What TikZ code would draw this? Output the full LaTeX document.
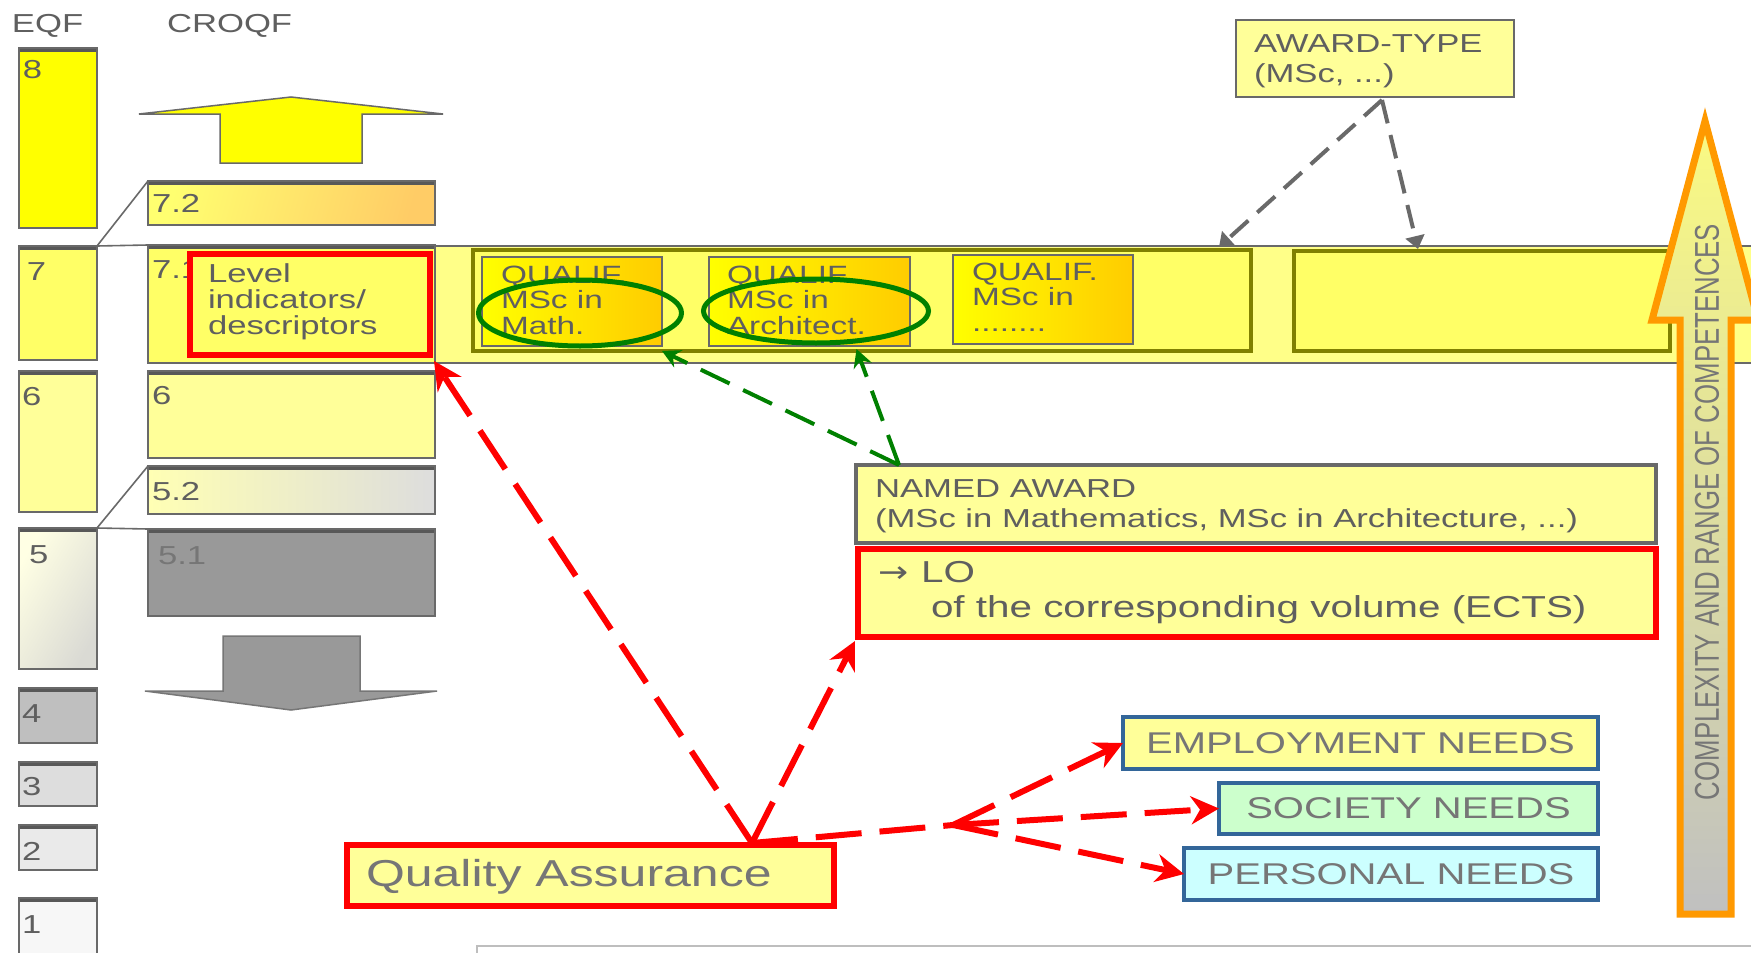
\documentclass[tikz,border=0pt]{standalone}
\usepackage{fontspec}
\setmainfont{Liberation Sans}[FakeStretch=1.333]
\newfontfamily\narrowsans{Liberation Sans}[FakeStretch=0.75]
\newfontfamily\arrowsans{DejaVu Sans}[FakeStretch=1.2]
\usetikzlibrary{arrows.meta,shapes.geometric,calc}

\newcommand{\setfs}[2]{\fontsize{#1}{#2}\selectfont}

\definecolor{txtgray}{RGB}{95,95,95}
\definecolor{softgray}{RGB}{118,118,118}
\definecolor{edgegray}{RGB}{105,105,105}
\definecolor{capgray}{RGB}{88,88,88}
\definecolor{yfull}{RGB}{255,255,0}
\definecolor{ymid}{RGB}{255,255,102}
\definecolor{ypale}{RGB}{255,255,153}
\definecolor{yband}{RGB}{255,255,136}
\definecolor{ambr}{RGB}{255,204,0}
\definecolor{peach}{RGB}{255,204,102}
\definecolor{grayA}{RGB}{153,153,153}
\definecolor{grayB}{RGB}{191,191,191}
\definecolor{grayC}{RGB}{221,221,221}
\definecolor{grayD}{RGB}{234,234,234}
\definecolor{grayE}{RGB}{247,247,247}
\definecolor{olivec}{RGB}{128,128,0}
\definecolor{greenc}{RGB}{0,128,0}
\definecolor{redc}{RGB}{255,0,0}
\definecolor{bluec}{RGB}{51,102,153}
\definecolor{mintc}{RGB}{204,255,204}
\definecolor{cyanc}{RGB}{204,255,255}
\definecolor{orangec}{RGB}{255,153,0}
\definecolor{arrtop}{RGB}{250,250,130}
\definecolor{arrbot}{RGB}{192,192,192}
\definecolor{framegray}{RGB}{190,190,190}

\begin{document}
\begin{tikzpicture}[x=1pt,y=-1pt,
  lbl/.style={anchor=base west, inner sep=0pt, outer sep=0pt, text=txtgray},
  levelbox/.style={draw=edgegray, line width=2pt, anchor=north west, inner sep=0pt, outer sep=0pt,
    path picture={\fill[capgray] (path picture bounding box.north west) rectangle ([yshift=-4pt]path picture bounding box.north east);}},
  plainbox/.style={anchor=north west, inner sep=0pt, outer sep=0pt},
  olivebox/.style={plainbox, draw=olivec, line width=4pt, fill=ymid},
  qbox/.style={plainbox, draw=edgegray, line width=2pt, left color=yfull, right color=ambr},
  needbox/.style={plainbox, draw=bluec, line width=4pt, text=softgray, font=\setfs{30}{30}},
  ring/.style={ellipse, draw=greenc, line width=5pt, inner sep=0pt},
  reddash/.style={draw=redc, line width=6pt, dash pattern=on 46pt off 18pt},
  redtip/.style={-{Stealth[length=28pt,width=28pt,inset=9pt]}},
  greendash/.style={draw=greenc, line width=4pt, dash pattern=on 32pt off 15pt,
    -{Stealth[length=18pt,width=19pt,inset=6pt]}},
  graydash/.style={draw=edgegray, line width=4pt, dash pattern=on 24pt off 12pt,
    -{Triangle[length=13pt,width=19pt]}},
  fineline/.style={draw=edgegray, line width=1.6pt},
  digit/.style={lbl, font=\setfs{26}{26}}
]
\useasboundingbox (0,0) rectangle (1751,953);
\clip (0,0) rectangle (1751,953);
\fill[white] (0,0) rectangle (1751,953);

% column headings
\node[lbl, font=\setfs{26}{26}] (hEQF) at (12,32) {EQF};
\node[lbl, font=\setfs{26}{26}] (hCROQF) at (167,32) {CROQF};

% EQF levels
\node[levelbox, fill=yfull, minimum width=78pt, minimum height=180pt] (e8) at (19,48) {};
\node[levelbox, fill=ymid, minimum width=78pt, minimum height=114pt] (e7) at (19,246) {};
\node[levelbox, fill=ypale, minimum width=78pt, minimum height=141pt] (e6) at (19,371) {};
\node[levelbox, left color={rgb,255:red,255;green,255;blue,228}, right color={rgb,255:red,218;green,218;blue,212},
  shading angle=60, minimum width=78pt, minimum height=141pt] (e5) at (19,528) {};
\node[levelbox, fill=grayB, minimum width=78pt, minimum height=55pt] (e4) at (19,688) {};
\node[levelbox, fill=grayC, minimum width=78pt, minimum height=44pt] (e3) at (19,762) {};
\node[levelbox, fill=grayD, minimum width=78pt, minimum height=45pt] (e2) at (19,825) {};
\node[levelbox, fill=grayE, minimum width=78pt, minimum height=80pt] (e1) at (19,898) {};

\node[digit] (n8) at (23,78) {8};
\node[digit] (n7) at (27,280) {7};
\node[digit] (n6) at (22,405) {6};
\node[digit] (n5) at (29,563) {5};
\node[digit] (n4) at (22,722) {4};
\node[digit] (n3) at (22,795) {3};
\node[digit] (n2) at (22,860) {2};
\node[digit] (n1) at (22,933) {1};

% CROQF levels
\node[levelbox, left color={rgb,255:red,255;green,255;blue,112}, right color=peach, shading angle=75,
  minimum width=287pt, minimum height=44pt] (c72) at (148,181) {};
\fill[yband] (435,246) rectangle (1751,363);
\draw[fineline] (435,246) -- (1751,246);
\draw[fineline] (435,363) -- (1751,363);
\node[levelbox, fill=ymid, minimum width=287pt, minimum height=118pt] (c71) at (148,245) {};
\node[levelbox, fill=ypale, minimum width=287pt, minimum height=87pt] (c6) at (148,371) {};
\node[levelbox, left color={rgb,255:red,255;green,255;blue,180}, right color=grayC,
  minimum width=287pt, minimum height=48pt] (c52) at (148,466) {};
\node[levelbox, fill=grayA, minimum width=287pt, minimum height=87pt] (c51) at (148,529) {};

\node[digit] (n72) at (152,212) {7.2};
\node[digit] (n71) at (152,278) {7.1};
\node[digit] (n6b) at (152,404) {6};
\node[digit] (n52) at (152,500) {5.2};
\node[digit, text=softgray] (n51) at (158,564) {5.1};

% links between the two columns
\draw[fineline] (e7.north east) -- (c72.north west);
\draw[fineline] (e7.north east) -- (c71.north west);
\draw[fineline] (e5.north east) -- (c52.north west);
\draw[fineline] (e5.north east) -- (c51.north west);

% up and down block arrows
\draw[fill=yfull, draw=edgegray, line width=1.5pt]
  (139,114) -- (291,97) -- (443,114) -- (362,114) -- (362,163) -- (220,163) -- (220,114) -- cycle;
\draw[fill=grayA, draw=softgray, line width=1.5pt]
  (223,636) -- (360,636) -- (360,691) -- (437,691) -- (291,710) -- (145,691) -- (223,691) -- cycle;

% level descriptors (multi-line labels are placed by their last baseline)
\node[plainbox, draw=redc, line width=6.5pt, fill=ymid, minimum width=240pt, minimum height=101pt] (lvl) at (190,254) {};
\node[lbl, align=left, font=\setfs{26}{26}] (lvlT) at (208,334) {Level\\indicators/\\descriptors};

% qualifications inside level 7
\node[olivebox, minimum width=778pt, minimum height=101pt] (ol1) at (473,250) {};
\node[olivebox, minimum width=376pt, minimum height=100pt] (ol2) at (1294,251) {};
\node[qbox, minimum width=180pt, minimum height=89pt] (q1) at (482,257) {};
\node[qbox, minimum width=201pt, minimum height=89pt] (q2) at (709,257) {};
\node[qbox, minimum width=180pt, minimum height=89pt] (q3) at (953,255) {};
\node[lbl, align=left, font=\setfs{25}{25.5}] (q1T) at (501,334) {QUALIF.\\MSc in\\Math.};
\node[lbl, align=left, font=\setfs{25}{25.5}] (q2T) at (727,334) {QUALIF.\\MSc in\\Architect.};
\node[lbl, align=left, font=\setfs{25}{25.5}] (q3T) at (972,331) {QUALIF.\\MSc in\\........};
\node[ring, minimum width=203pt, minimum height=66pt] (m1) at (580,313) {};
\node[ring, minimum width=225pt, minimum height=64pt] (m2) at (816,311) {};

% award type
\node[plainbox, draw=edgegray, line width=2.5pt, fill=ypale, minimum width=278pt, minimum height=77pt] (awt) at (1236,20) {};
\node[lbl, align=left, font=\setfs{26}{30}] (awtT) at (1254,82) {AWARD-TYPE\\(MSc, ...)};
\coordinate (tipA) at (1219,247);
\coordinate (tipB) at (1418,249);
\draw[graydash] ($(awt.south)+(7,3)$) -- (tipA);
\draw[graydash] ($(awt.south)+(7,3)$) -- (tipB);

% named award and learning outcomes
\node[plainbox, draw=edgegray, line width=3.5pt, fill=ypale, minimum width=800pt, minimum height=78pt] (named) at (856,465) {};
\node[lbl, align=left, font=\setfs{26}{30}] (namedT) at (875,527) {NAMED AWARD\\(MSc in Mathematics, MSc in Architecture, ...)};
\node[plainbox, draw=redc, line width=6pt, fill=ypale, minimum width=798pt, minimum height=88pt] (lo) at (858,549) {};
\node[lbl, align=left, font=\setfs{30.3}{35}] (loT) at (878,617)
  {{\arrowsans\setfs{30}{35}→}\hspace{13pt}LO\\\hspace*{53pt}of the corresponding volume (ECTS)};

\draw[greendash] ($(named.north west)+(43,0)$) -- ($(q1.south east)+(0,5)$);
\draw[greendash] ($(named.north west)+(43,0)$) -- ($(q2.south)+(47,3)$);

% quality assurance and needs
\node[plainbox, draw=redc, line width=6pt, fill=ypale, minimum width=487pt, minimum height=61pt] (qa) at (347,845) {};
\node[lbl, font=\setfs{37.5}{37.5}, text=softgray] (qaT) at (366,886) {Quality Assurance};
\node[needbox, fill=ypale, minimum width=475pt, minimum height=52pt] (emp) at (1123,717) {EMPLOYMENT NEEDS};
\node[needbox, fill=mintc, minimum width=379pt, minimum height=51pt] (soc) at (1219,783) {SOCIETY NEEDS};
\node[needbox, fill=cyanc, minimum width=414pt, minimum height=52pt] (pers) at (1184,848) {PERSONAL NEEDS};

\coordinate (qaApex) at ($(qa.north west)+(405,-2)$);
\coordinate (hub) at (953,825);
\draw[reddash, redtip] (qaApex) -- ($(lvl.south east)+(4,6)$);
\draw[reddash, redtip] (qaApex) -- ($(lo.south west)+(-3,4)$);
\draw[reddash] (qaApex) -- (hub);
\draw[reddash, redtip] (hub) -- (emp.west);
\draw[reddash, redtip] (hub) -- (soc.west);
\draw[reddash, redtip] (hub) -- (pers.west);

% complexity arrow
\draw[line width=7pt, draw=orangec, top color=arrtop, bottom color=arrbot, line join=miter]
  (1705,121) -- (1758,320) -- (1731,320) -- (1731,914) -- (1680,914) -- (1680,320) -- (1652,320) -- cycle;
\node[rotate=90, inner sep=0pt, text=softgray, font={\narrowsans\setfs{34.4}{34.4}}] (compl) at (1707,512)
  {COMPLEXITY AND RANGE OF COMPETENCES};

% frame at the bottom
\draw[framegray, line width=2pt] (477,960) -- (477,946) -- (1760,946);
\end{tikzpicture}
\end{document}
